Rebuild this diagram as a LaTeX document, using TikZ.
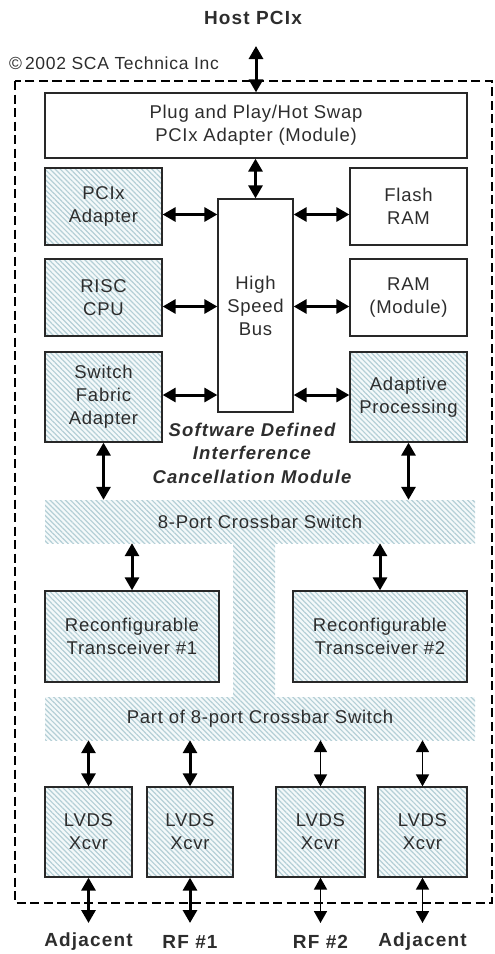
\documentclass[tikz,border=0pt]{standalone}
\usepackage{fontspec}
\setmainfont{Liberation Sans}
\newfontfamily\boxfont{Liberation Sans}[LetterSpace=4]
\newfontfamily\labfont{Liberation Sans}[LetterSpace=6]
\usetikzlibrary{arrows.meta,patterns.meta,positioning}

\definecolor{hatchline}{RGB}{180,207,214}
\definecolor{hatchbg}{RGB}{244,249,250}
\definecolor{boxtext}{RGB}{45,45,45}
\definecolor{edge}{RGB}{40,40,40}

\begin{document}
\begin{tikzpicture}[x=1pt,y=-1pt,
  hatched/.style={preaction={fill=hatchbg},
    pattern={Lines[angle=-45,distance=3.6pt,line width=1.2pt]},
    pattern color=hatchline},
  plainbox/.style={draw=edge,line width=1.3pt,fill=white,align=center,
    font=\boxfont\fontsize{18.5}{23}\selectfont,text=boxtext,inner sep=0pt},
  hatchbox/.style={plainbox,hatched},
  band/.style={hatched,align=center,inner sep=0pt,
    font=\boxfont\fontsize{18.5}{23}\selectfont,text=boxtext},
  biarrow/.style={line width=3pt,draw=black,
    {Triangle[length=13pt,width=14pt]}-{Triangle[length=13pt,width=14pt]}},
  thinarrow/.style={line width=1.8pt,draw=black,
    {Triangle[length=12pt,width=13pt]}-{Triangle[length=12pt,width=13pt]}},
  label/.style={font=\labfont\bfseries\fontsize{19}{23}\selectfont,text=boxtext},
  frame/.style={draw=black,line width=2pt,dash pattern=on 9pt off 4.5pt}
]
\useasboundingbox (0,0) rectangle (495,954);

% title, credit and module outline
\node[label] (host) at (253,18) {Host PCIx};
\node[anchor=west,font=\boxfont\fontsize{17.5}{20}\selectfont,text=boxtext,inner sep=0pt]
  (credit) at (9,63) {\textcopyright\,2002 SCA Technica Inc};
\draw[frame] (15,81) rectangle (492,903);

% upper half: bus and attached modules
\node[plainbox,minimum width=422pt,minimum height=65pt] (plug) at (256,125.5)
  {Plug and Play/Hot Swap\\PCIx Adapter (Module)};
\node[plainbox,minimum width=75pt,minimum height=213pt] (bus) at (255.5,305.5)
  {High\\Speed\\Bus};
\node[hatchbox,minimum width=117pt,minimum height=77pt] (pcix) at (103.5,206.5)
  {PCIx\\Adapter};
\node[plainbox,minimum width=117pt,minimum height=77pt] (flash) at (408.5,206.5)
  {Flash\\RAM};
\node[hatchbox,minimum width=117pt,minimum height=77pt] (risc) at (103.5,297.5)
  {RISC\\CPU};
\node[plainbox,minimum width=117pt,minimum height=77pt] (ram) at (408.5,297.5)
  {RAM\\(Module)};
\node[hatchbox,minimum width=117pt,minimum height=90pt] (sfa) at (103.5,397)
  {Switch\\Fabric\\Adapter};
\node[hatchbox,minimum width=117pt,minimum height=90pt] (adp) at (408.5,397)
  {Adaptive\\Processing};
\node[align=center,font=\labfont\bfseries\itshape\fontsize{18.5}{23.5}\selectfont,
  text=boxtext,inner sep=0pt] (sdicm) at (252,453)
  {Software Defined\\Interference\\Cancellation Module};

% crossbar switch fabric
\node[band,minimum width=430pt,minimum height=43pt] (xbar) at (260,521.5)
  {8-Port Crossbar Switch};
\node[band,minimum width=42pt,minimum height=154pt] (strip) at (254,620) {};
\node[band,minimum width=430pt,minimum height=43pt] (pxbar) at (260,718.5)
  {Part of 8-port Crossbar Switch};
\node[hatchbox,minimum width=174pt,minimum height=91pt] (trx1) at (132,636.5)
  {Reconfigurable\\Transceiver \#1};
\node[hatchbox,minimum width=174pt,minimum height=91pt] (trx2) at (380,636.5)
  {Reconfigurable\\Transceiver \#2};

% LVDS transceivers and external ports
\node[hatchbox,minimum width=87pt,minimum height=90pt] (l1) at (88.5,832) {LVDS\\Xcvr};
\node[hatchbox,minimum width=86pt,minimum height=90pt] (l2) at (190,832) {LVDS\\Xcvr};
\node[hatchbox,minimum width=89pt,minimum height=90pt] (l3) at (320.5,832) {LVDS\\Xcvr};
\node[hatchbox,minimum width=89pt,minimum height=90pt] (l4) at (422.5,832) {LVDS\\Xcvr};
\node[label] (p1) at (88.5,942) {Adjacent};
\node[label] (p2) at (190,942) {RF \#1};
\node[label] (p3) at (320.5,942) {RF \#2};
\node[label] (p4) at (422.5,942) {Adjacent};
\coordinate (hostend) at (256,46);
\coordinate (e1) at (88.5,923);
\coordinate (e2) at (190,923);
\coordinate (e3) at (320.5,923);
\coordinate (e4) at (422.5,923);

% connectors
\draw[biarrow] (hostend) -- (plug.north -| hostend);
\draw[biarrow] (bus.north |- plug.south) -- (bus.north);
\draw[biarrow] ([yshift=-8pt]pcix.east) -- ([yshift=-8pt]pcix.east -| bus.west);
\draw[biarrow] ([yshift=-8pt]flash.west) -- ([yshift=-8pt]flash.west -| bus.east);
\draw[biarrow] ([yshift=-9pt]risc.east) -- ([yshift=-9pt]risc.east -| bus.west);
\draw[biarrow] ([yshift=-9pt]ram.west) -- ([yshift=-9pt]ram.west -| bus.east);
\draw[biarrow] ([yshift=2pt]sfa.east) -- ([yshift=2pt]sfa.east -| bus.west);
\draw[biarrow] ([yshift=2pt]adp.west) -- ([yshift=2pt]adp.west -| bus.east);
\draw[biarrow] (sfa.south) -- (sfa.south |- xbar.north);
\draw[biarrow] (adp.south) -- (adp.south |- xbar.north);
\draw[biarrow] (trx1.north |- xbar.south) -- (trx1.north);
\draw[biarrow] (trx2.north |- xbar.south) -- (trx2.north);
\draw[biarrow] (l1.north |- pxbar.south) -- (l1.north);
\draw[biarrow] (l2.north |- pxbar.south) -- (l2.north);
\draw[thinarrow] (l3.north |- pxbar.south) -- (l3.north);
\draw[thinarrow] (l4.north |- pxbar.south) -- (l4.north);
\draw[biarrow] (l1.south) -- (e1);
\draw[biarrow] (l2.south) -- (e2);
\draw[thinarrow] (l3.south) -- (e3);
\draw[thinarrow] (l4.south) -- (e4);
\end{tikzpicture}
\end{document}
